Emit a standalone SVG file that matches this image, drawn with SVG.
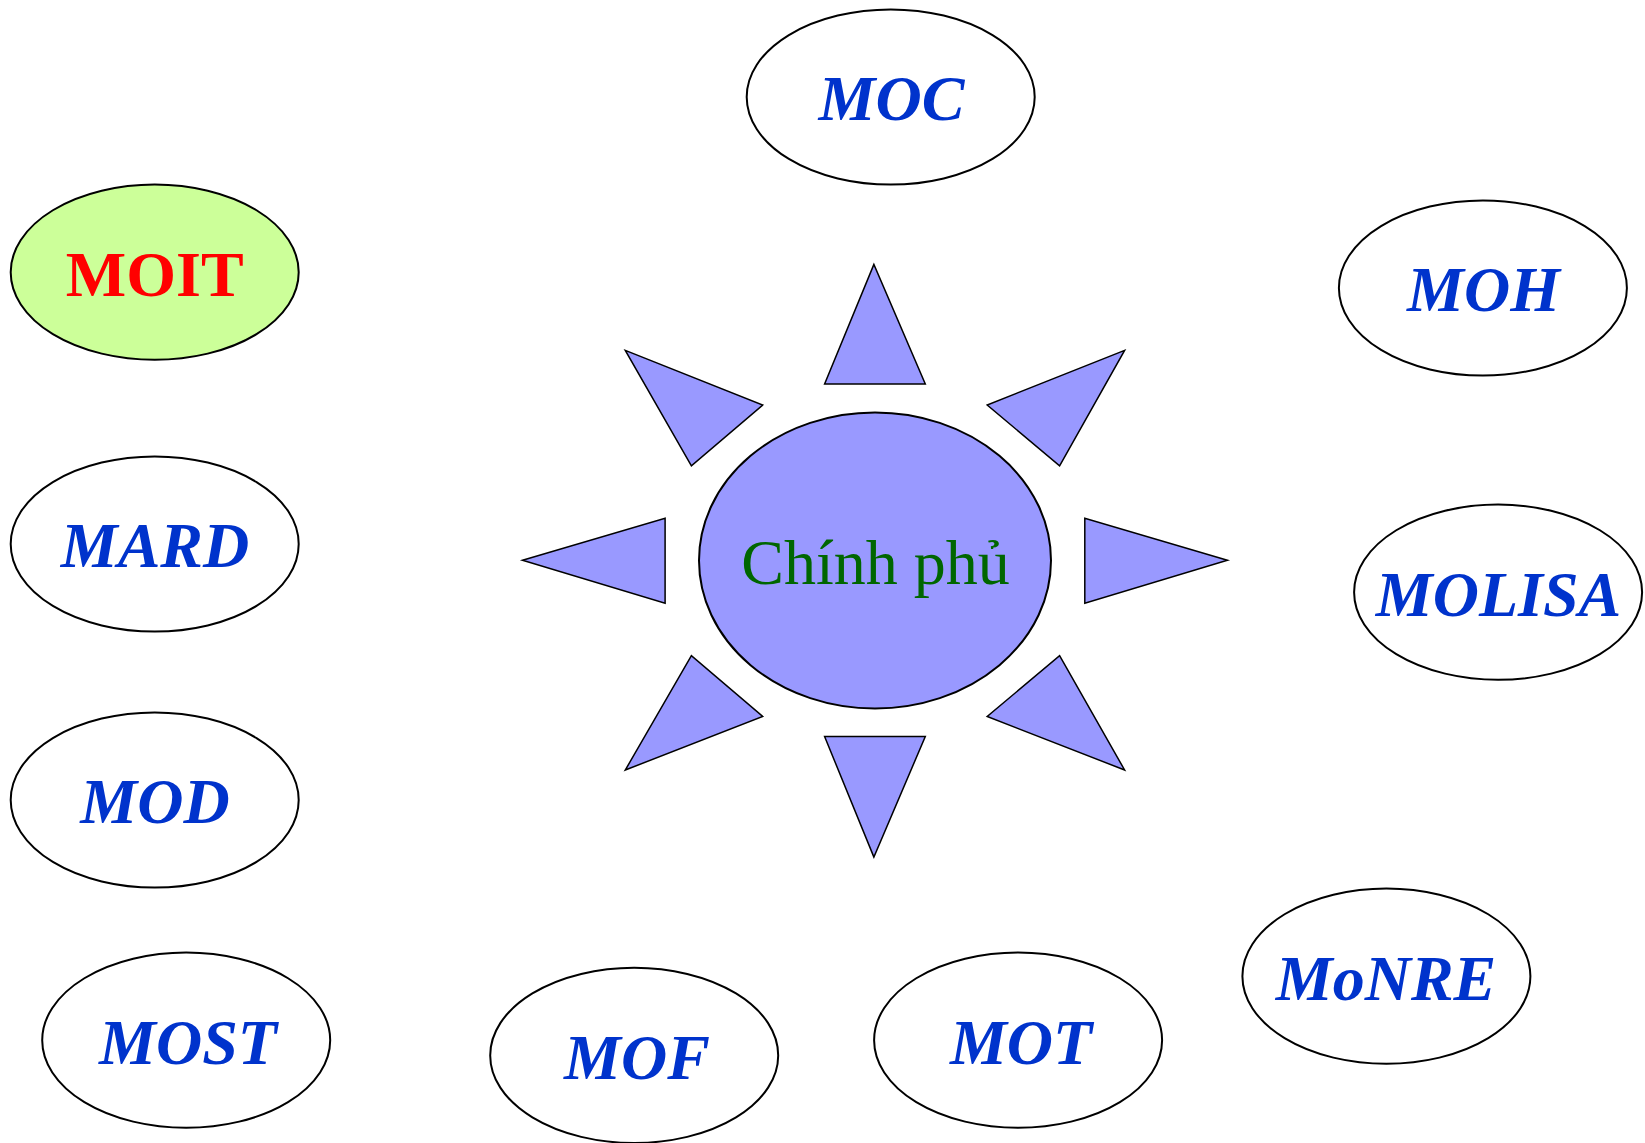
<svg xmlns="http://www.w3.org/2000/svg" width="1645" height="1143" viewBox="0 0 1645 1143">
<style>
.node ellipse{fill:#fff;stroke:#000;stroke-width:2}
.lbl{font-family:"Liberation Serif","Times New Roman",serif;font-size:64px;font-weight:bold;font-style:italic;fill:#0033cc;text-anchor:middle}
.ray{fill:#9999ff;stroke:#000;stroke-width:1.5;stroke-linejoin:miter}
</style>
<rect width="1645" height="1143" fill="#fff"/>
<g id="sun">
<polygon class="ray" points="873.9,264.4 824.6,384 925.3,384"/>
<polygon class="ray" points="873.9,857.1 824.6,736.5 925.3,736.5"/>
<polygon class="ray" points="522.5,560.2 665.1,518.3 665.1,603.2"/>
<polygon class="ray" points="1227.4,560.2 1084.8,518.3 1084.8,603.2"/>
<polygon class="ray" points="625.3,350.4 762.7,405 691.4,465.8"/>
<polygon class="ray" points="1124.6,350.4 987.2,405 1059.6,465.8"/>
<polygon class="ray" points="625.3,770 762.7,716.5 691.4,655.7"/>
<polygon class="ray" points="1124.6,770 987.2,716.5 1059.6,655.7"/>
<ellipse cx="875" cy="560.5" rx="176" ry="148" fill="#9999ff" stroke="#000" stroke-width="2"/>
<text x="875.5" y="584" font-family="Liberation Serif, Times New Roman, serif" font-size="64" fill="#006600" text-anchor="middle">Chính phủ</text>
</g>
<g id="MOC" class="node"><ellipse cx="890.7" cy="97" rx="144" ry="87.6"/><text class="lbl" x="891.5" y="120">MOC</text></g>
<g id="MOIT" class="node"><ellipse cx="154.7" cy="272.2" rx="144" ry="87.6" style="fill:#ccff99"/><text x="154.7" y="295.5" font-family="Liberation Serif, Times New Roman, serif" font-size="64" font-weight="bold" fill="#ff0000" text-anchor="middle">MOIT</text></g>
<g id="MOH" class="node"><ellipse cx="1482.9" cy="288" rx="144" ry="87.6"/><text class="lbl" x="1483.5" y="311">MOH</text></g>
<g id="MARD" class="node"><ellipse cx="154.7" cy="544" rx="144" ry="87.6"/><text class="lbl" x="155" y="567">MARD</text></g>
<g id="MOLISA" class="node"><ellipse cx="1498.1" cy="592.2" rx="144" ry="87.6"/><text class="lbl" x="1498.5" y="615.5">MOLISA</text></g>
<g id="MOD" class="node"><ellipse cx="154.7" cy="800" rx="144" ry="87.6"/><text class="lbl" x="155" y="823">MOD</text></g>
<g id="MoNRE" class="node"><ellipse cx="1386.4" cy="976.2" rx="144" ry="87.6"/><text class="lbl" x="1386" y="999.5">MoNRE</text></g>
<g id="MOST" class="node"><ellipse cx="186.2" cy="1040.2" rx="144" ry="87.6"/><text class="lbl" x="188" y="1063.5">MOST</text></g>
<g id="MOF" class="node"><ellipse cx="634.2" cy="1055.4" rx="144" ry="87.6"/><text class="lbl" x="637" y="1078.5">MOF</text></g>
<g id="MOT" class="node"><ellipse cx="1018.1" cy="1040.2" rx="144" ry="87.6"/><text class="lbl" x="1021" y="1063.5">MOT</text></g>
<g id="connectors"></g>
</svg>
